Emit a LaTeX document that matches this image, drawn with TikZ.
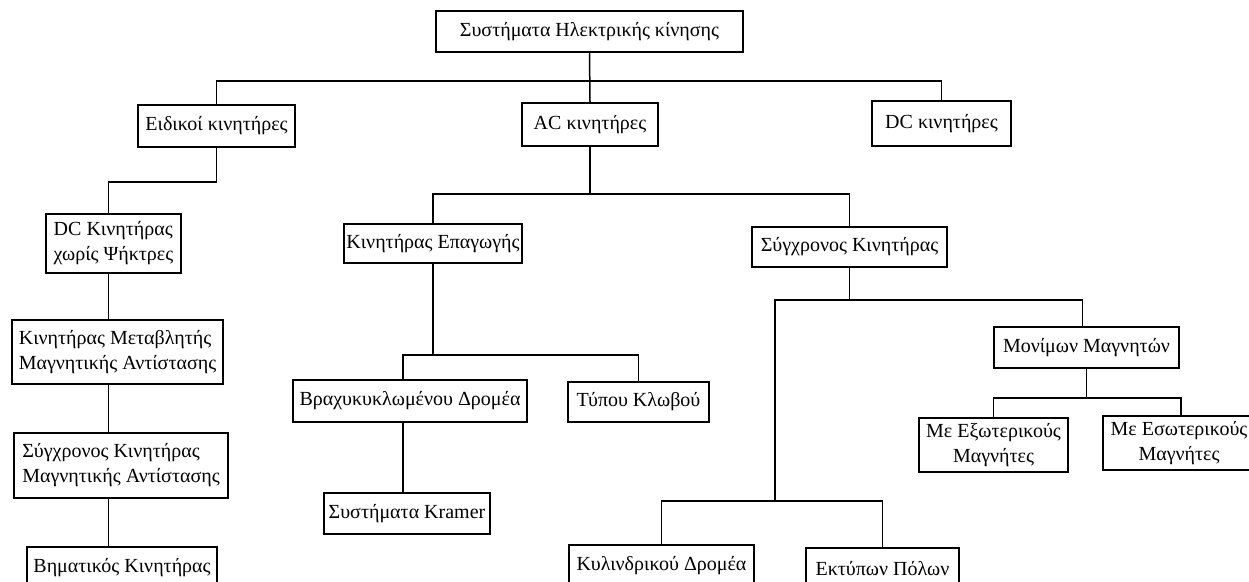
\documentclass[tikz,border=0pt]{standalone}
\usepackage{fontspec}
\setmainfont{Liberation Serif}
\begin{document}
\begin{tikzpicture}[x=1pt, y=-1pt, line width=1.5pt,
	box/.style={draw, rectangle, inner sep=1pt, font=\fontsize{20}{25}\selectfont}]
	\useasboundingbox (0,0) rectangle (1249,581);
	% first level
	\node[box, minimum width=307, minimum height=41] (root) at (589.5,31.5) {Συστήματα Ηλεκτρικής κίνησης};
	\node[box, minimum width=157, minimum height=42] (special) at (216.5,126) {Ειδικοί κινητήρες};
	\node[box, minimum width=136, minimum height=43] (ac) at (590,124.5) {AC κινητήρες};
	\node[box, minimum width=139, minimum height=45] (dc) at (941.5,123.5) {DC κινητήρες};
	% special motors
	\node[box, minimum width=135, minimum height=59, align=left] (bldc) at (113.5,243.5) {DC Κινητήρας\\χωρίς Ψήκτρες};
	\node[box, minimum width=211, minimum height=64, align=left] (srm) at (117.5,352) {Κινητήρας Μεταβλητής\\Μαγνητικής Αντίστασης};
	\node[box, minimum width=214, minimum height=65, align=left] (synrm) at (121,465.5) {Σύγχρονος Κινητήρας\\Μαγνητικής Αντίστασης};
	\node[box, minimum width=190, minimum height=42] (stepper) at (122,568) {Βηματικός Κινητήρας};
	% ac motors
	\node[box, minimum width=178, minimum height=39] (induction) at (433,243.5) {Κινητήρας Επαγωγής};
	\node[box, minimum width=195, minimum height=40] (sync) at (849.5,247) {Σύγχρονος Κινητήρας};
	\node[box, minimum width=234, minimum height=42] (wound) at (410,401) {Βραχυκυκλωμένου Δρομέα};
	\node[box, minimum width=141, minimum height=40] (cage) at (638.5,402) {Τύπου Κλωβού};
	\node[box, minimum width=166, minimum height=41] (kramer) at (407,513.5) {Συστήματα Kramer};
	\node[box, minimum width=185, minimum height=42] (cyl) at (661.5,566) {Κυλινδρικού Δρομέα};
	\node[box, minimum width=153, minimum height=42] (salient) at (882.5,569) {Εκτύπων Πόλων};
	\node[box, minimum width=185, minimum height=41] (pm) at (1086.5,347.5) {Μονίμων Μαγνητών};
	\node[box, minimum width=149, minimum height=54, align=center] (outer) at (993.5,445) {Με Εξωτερικούς\\Μαγνήτες};
	\node[box, minimum width=152, minimum height=54, align=center] (inner) at (1179,443) {Με Εσωτερικούς\\Μαγνήτες};
	\coordinate (split) at (775,501);
	% connectors
	\draw (root.south) -- ++(0,28) -| (special.north);
	\draw (root.south) -- (ac.north);
	\draw (root.south) -- ++(0,28) -| (dc.north);
	\draw (special.south) -- ++(0,34) -| ([xshift=-5pt]bldc.north);
	\draw ([xshift=-5pt]bldc.south) -- ([xshift=-5pt]bldc.south |- srm.north);
	\draw ([xshift=-5pt]bldc.south |- srm.south) -- ([xshift=-5pt]bldc.south |- synrm.north);
	\draw ([xshift=-5pt]bldc.south |- synrm.south) -- ([xshift=-5pt]bldc.south |- stepper.north);
	\draw (ac.south) -- ++(0,47) -| (induction.north);
	\draw (ac.south) -- ++(0,47) -| (sync.north);
	\draw (induction.south) -- ++(0,91) -| ([xshift=-7pt]wound.north);
	\draw (induction.south) -- ++(0,91) -| (cage.north);
	\draw ([xshift=-7pt]wound.south) -- ([xshift=-7pt]wound.south |- kramer.north);
	\draw (sync.south) -- ++(0,32) -| (split);
	\draw (sync.south) -- ++(0,32) -| ([xshift=-4pt]pm.north);
	\draw (split) -| (cyl.north);
	\draw (split) -| (salient.north);
	\draw (pm.south) -- ++(0,29) -| (outer.north);
	\draw (pm.south) -- ++(0,29) -| ([xshift=2pt]inner.north);
\end{tikzpicture}
\end{document}
